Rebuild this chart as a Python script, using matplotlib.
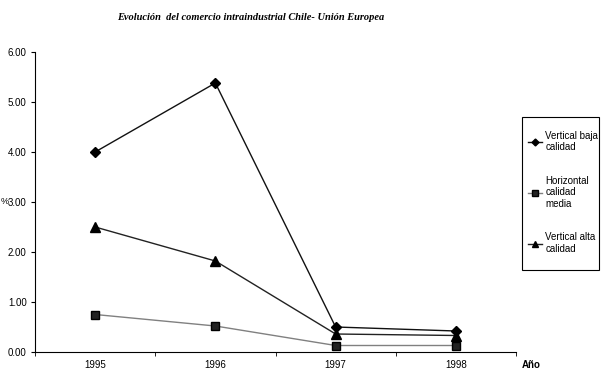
import numpy as np
import matplotlib.pyplot as plt
from matplotlib.patches import Rectangle

# --- Data ---
years = ['1995', '1996', '1997', '1998']
vertical_baja = [4.00, 5.38, 0.50, 0.42]
horizontal_media = [0.75, 0.52, 0.13, 0.13]
vertical_alta = [2.50, 1.82, 0.36, 0.33]
labels = ['Vertical baja\ncalidad', 'Horizontal\ncalidad\nmedia', 'Vertical alta\ncalidad']

plt.rcParams['font.family'] = ['Liberation Sans', 'DejaVu Sans']

fig = plt.figure(figsize=(6.08, 3.81), dpi=100, facecolor='white')
W, H = 608, 381
ax = fig.add_axes([35 / W, (H - 352) / H, (516 - 35) / W, 300 / H])

x = np.arange(len(years))
l1, = ax.plot(x, vertical_baja, color='#111111', lw=1.0, marker='D', ms=5,
              mfc='black', mec='black')
l2, = ax.plot(x, horizontal_media, color='#808080', lw=1.0, marker='s', ms=6,
              mfc='#222222', mec='black')
l3, = ax.plot(x, vertical_alta, color='#222222', lw=1.0, marker='^', ms=7,
              mfc='black', mec='black')

ax.set_xlim(-0.5, 3.5)
ax.set_ylim(0, 6)
ax.set_yticks(np.arange(0, 6.01, 1))
ax.set_yticklabels([f'{v:.2f}' for v in np.arange(0, 6.01, 1)], fontsize=7)
ax.set_xticks(x)
ax.set_xticklabels(years, fontsize=7)
ax.set_xticks(np.arange(-0.5, 3.6, 1), minor=True)
ax.tick_params(axis='x', which='major', length=0, pad=6)
ax.tick_params(axis='x', which='minor', length=3, direction='out')
ax.tick_params(axis='y', length=3, direction='out', pad=3)
for s in ['top', 'right']:
    ax.spines[s].set_visible(False)
for s in ['left', 'bottom']:
    ax.spines[s].set_linewidth(0.8)

fig.text(251 / W, 1 - 18 / H, 'Evolución  del comercio intraindustrial Chile- Unión Europea',
         ha='center', va='center', fontsize=7.5, fontweight='bold', fontstyle='italic',
         family=['Liberation Serif', 'DejaVu Serif'])
fig.text(522 / W, 1 - 365 / H, 'Año', ha='left', va='center', fontsize=7, fontweight='bold')
fig.text(0.5 / W, 1 - 202 / H, '%', ha='left', va='center', fontsize=6.5)

# legend frame drawn by hand, entries without frame
fig.patches.append(Rectangle((522 / W, 1 - 270 / H), (599 - 522) / W, (270 - 117) / H,
                             transform=fig.transFigure, fill=False, edgecolor='black',
                             lw=0.8))
leg = fig.legend([l1, l2, l3], labels, loc='upper left',
                 bbox_to_anchor=(520 / W, 1 - 123 / H), bbox_transform=fig.transFigure,
                 fontsize=7, handlelength=1.5, handletextpad=0.3, labelspacing=2.4,
                 borderpad=0.3, frameon=False, markerscale=0.7)

fig.savefig('out.png', dpi=100, facecolor='white')
